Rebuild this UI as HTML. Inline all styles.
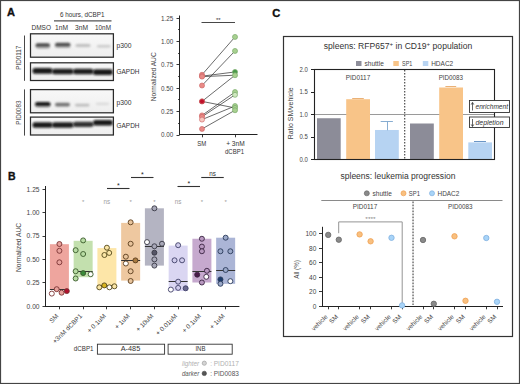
<!DOCTYPE html>
<html><head><meta charset="utf-8"><style>
html,body{margin:0;padding:0;background:#fff;}
svg{display:block;font-family:"Liberation Sans", sans-serif;}
</style></head><body>
<svg width="520" height="384" viewBox="0 0 520 384">
<defs>
<filter id="bl" x="-30%" y="-100%" width="160%" height="300%"><feGaussianBlur stdDeviation="1.1 0.85"/></filter>
<linearGradient id="blotbg" x1="0" y1="0" x2="0" y2="1"><stop offset="0" stop-color="#f8f8f8"/><stop offset="1" stop-color="#eeeeee"/></linearGradient>
<clipPath id="clipb1"><rect x="31" y="34.3" width="82" height="22.4"/></clipPath>
<clipPath id="clipb2"><rect x="31" y="63.3" width="82" height="16.7"/></clipPath>
<clipPath id="clipb3"><rect x="31" y="90.1" width="82" height="22.2"/></clipPath>
<clipPath id="clipb4"><rect x="31" y="117.6" width="82" height="16.9"/></clipPath>
</defs>
<rect x="0" y="0" width="520" height="384" fill="#fff"/>
<text x="7.00" y="15.80" font-size="11" fill="#111" font-weight="bold" stroke="#111" stroke-width="0.35">A</text>
<text x="60.00" y="17.00" font-size="6.3" fill="#333" textLength="44.50" lengthAdjust="spacingAndGlyphs" >6 hours, dCBP1</text>
<line x1="54.00" y1="20.90" x2="111.50" y2="20.90" stroke="#555" stroke-width="1.3" />
<text x="31.50" y="29.90" font-size="6.4" fill="#333" textLength="19.50" lengthAdjust="spacingAndGlyphs" >DMSO</text>
<text x="55.00" y="29.90" font-size="6.4" fill="#333" textLength="13.00" lengthAdjust="spacingAndGlyphs" >1nM</text>
<text x="75.00" y="29.90" font-size="6.4" fill="#333" textLength="13.00" lengthAdjust="spacingAndGlyphs" >3nM</text>
<text x="95.00" y="29.90" font-size="6.4" fill="#333" textLength="16.00" lengthAdjust="spacingAndGlyphs" >10nM</text>
<rect x="30.5" y="33.8" width="82.90" height="23.40" fill="url(#blotbg)" stroke="#2a2a2a" stroke-width="1.25"/>
<rect x="30.5" y="62.8" width="82.90" height="17.70" fill="url(#blotbg)" stroke="#2a2a2a" stroke-width="1.25"/>
<rect x="30.5" y="89.6" width="82.90" height="23.20" fill="url(#blotbg)" stroke="#2a2a2a" stroke-width="1.25"/>
<rect x="30.5" y="117.1" width="82.90" height="17.90" fill="url(#blotbg)" stroke="#2a2a2a" stroke-width="1.25"/>
<g clip-path="url(#clipb1)">
<rect x="35.50" y="43.30" width="14.50" height="4.20" rx="2.10" fill="#3a3a3a" opacity="0.92" filter="url(#bl)"/>
<rect x="55.00" y="42.80" width="15.50" height="4.20" rx="2.10" fill="#3a3a3a" opacity="0.9" filter="url(#bl)"/>
<rect x="75.50" y="44.10" width="15.00" height="3.00" rx="1.50" fill="#888" opacity="0.48" filter="url(#bl)"/>
<rect x="97.00" y="45.00" width="13.50" height="2.60" rx="1.30" fill="#888" opacity="0.38" filter="url(#bl)"/>
<rect x="36.00" y="46.00" width="14.00" height="3.00" rx="1.50" fill="#aaa" opacity="0.35" filter="url(#bl)"/>
<rect x="55.50" y="45.50" width="15.00" height="3.00" rx="1.50" fill="#aaa" opacity="0.35" filter="url(#bl)"/>
</g><g clip-path="url(#clipb2)">
<rect x="32.50" y="68.00" width="20.00" height="5.80" rx="2.50" fill="#0a0a0a" opacity="0.95" filter="url(#bl)"/>
<rect x="52.00" y="68.70" width="21.50" height="5.60" rx="2.50" fill="#111" opacity="0.93" filter="url(#bl)"/>
<rect x="73.00" y="68.70" width="20.50" height="5.60" rx="2.50" fill="#111" opacity="0.93" filter="url(#bl)"/>
<rect x="93.00" y="69.20" width="19.80" height="5.80" rx="2.50" fill="#0a0a0a" opacity="0.95" filter="url(#bl)"/>
</g><g clip-path="url(#clipb3)">
<rect x="35.00" y="102.00" width="15.50" height="4.40" rx="2.20" fill="#111" opacity="0.97" filter="url(#bl)"/>
<rect x="55.00" y="102.70" width="15.00" height="3.80" rx="1.90" fill="#555" opacity="0.8" filter="url(#bl)"/>
<rect x="75.00" y="103.80" width="14.50" height="2.60" rx="1.30" fill="#8a8a8a" opacity="0.5" filter="url(#bl)"/>
<rect x="96.00" y="102.70" width="13.00" height="2.20" rx="1.10" fill="#aaa" opacity="0.35" filter="url(#bl)"/>
<rect x="35.50" y="105.20" width="14.50" height="2.40" rx="1.20" fill="#999" opacity="0.3" filter="url(#bl)"/>
</g><g clip-path="url(#clipb4)">
<rect x="32.50" y="122.20" width="20.00" height="5.60" rx="2.50" fill="#0a0a0a" opacity="0.95" filter="url(#bl)"/>
<rect x="52.00" y="122.30" width="21.50" height="5.40" rx="2.50" fill="#111" opacity="0.93" filter="url(#bl)"/>
<rect x="73.00" y="121.80" width="20.50" height="5.20" rx="2.50" fill="#1e1e1e" opacity="0.9" filter="url(#bl)"/>
<rect x="93.00" y="120.00" width="19.80" height="5.60" rx="2.50" fill="#0a0a0a" opacity="0.95" filter="url(#bl)"/>
</g>
<line x1="24.50" y1="35.50" x2="24.50" y2="80.80" stroke="#333" stroke-width="0.9" />
<line x1="24.50" y1="89.40" x2="24.50" y2="135.60" stroke="#333" stroke-width="0.9" />
<text x="21.20" y="57.70" font-size="6.3" fill="#444" text-anchor="middle" textLength="24.20" lengthAdjust="spacingAndGlyphs" transform="rotate(-90 21.20 57.70)" >PID0117</text>
<text x="21.20" y="112.60" font-size="6.3" fill="#444" text-anchor="middle" textLength="24.30" lengthAdjust="spacingAndGlyphs" transform="rotate(-90 21.20 112.60)" >PID0083</text>
<text x="116.50" y="48.30" font-size="6.6" fill="#333" textLength="15.00" lengthAdjust="spacingAndGlyphs" >p300</text>
<text x="116.50" y="105.30" font-size="6.6" fill="#333" textLength="15.00" lengthAdjust="spacingAndGlyphs" >p300</text>
<text x="116.50" y="74.00" font-size="6.5" fill="#333" textLength="23.00" lengthAdjust="spacingAndGlyphs" >GAPDH</text>
<text x="116.50" y="128.30" font-size="6.5" fill="#333" textLength="23.00" lengthAdjust="spacingAndGlyphs" >GAPDH</text>
<line x1="179.50" y1="15.50" x2="179.50" y2="135.20" stroke="#222" stroke-width="1" />
<line x1="179.00" y1="134.50" x2="257.50" y2="134.50" stroke="#222" stroke-width="1" />
<line x1="176.50" y1="18.50" x2="179.50" y2="18.50" stroke="#222" stroke-width="0.9" />
<text x="173.40" y="20.50" font-size="6.3" fill="#444" text-anchor="end" textLength="12.30" lengthAdjust="spacingAndGlyphs" >1.25</text>
<line x1="176.50" y1="41.50" x2="179.50" y2="41.50" stroke="#222" stroke-width="0.9" />
<text x="173.40" y="43.85" font-size="6.3" fill="#444" text-anchor="end" textLength="12.30" lengthAdjust="spacingAndGlyphs" >1.00</text>
<line x1="176.50" y1="64.50" x2="179.50" y2="64.50" stroke="#222" stroke-width="0.9" />
<text x="173.40" y="67.20" font-size="6.3" fill="#444" text-anchor="end" textLength="12.30" lengthAdjust="spacingAndGlyphs" >0.75</text>
<line x1="176.50" y1="88.50" x2="179.50" y2="88.50" stroke="#222" stroke-width="0.9" />
<text x="173.40" y="90.55" font-size="6.3" fill="#444" text-anchor="end" textLength="12.30" lengthAdjust="spacingAndGlyphs" >0.50</text>
<line x1="176.50" y1="111.50" x2="179.50" y2="111.50" stroke="#222" stroke-width="0.9" />
<text x="173.40" y="113.90" font-size="6.3" fill="#444" text-anchor="end" textLength="12.30" lengthAdjust="spacingAndGlyphs" >0.25</text>
<line x1="176.50" y1="135.50" x2="179.50" y2="135.50" stroke="#222" stroke-width="0.9" />
<text x="173.40" y="137.25" font-size="6.3" fill="#444" text-anchor="end" textLength="12.30" lengthAdjust="spacingAndGlyphs" >0.00</text>
<line x1="178.00" y1="29.50" x2="179.50" y2="29.50" stroke="#222" stroke-width="0.8" />
<line x1="178.00" y1="53.50" x2="179.50" y2="53.50" stroke="#222" stroke-width="0.8" />
<line x1="178.00" y1="76.50" x2="179.50" y2="76.50" stroke="#222" stroke-width="0.8" />
<line x1="178.00" y1="99.50" x2="179.50" y2="99.50" stroke="#222" stroke-width="0.8" />
<line x1="178.00" y1="123.50" x2="179.50" y2="123.50" stroke="#222" stroke-width="0.8" />
<line x1="202.50" y1="134.70" x2="202.50" y2="137.30" stroke="#222" stroke-width="0.9" />
<line x1="235.50" y1="134.70" x2="235.50" y2="137.30" stroke="#222" stroke-width="0.9" />
<text x="156.40" y="76.80" font-size="7" fill="#444" text-anchor="middle" textLength="49.00" lengthAdjust="spacingAndGlyphs" transform="rotate(-90 156.40 76.80)" >Normalized AUC</text>
<text x="201.80" y="146.10" font-size="6.4" fill="#333" text-anchor="middle" textLength="9.00" lengthAdjust="spacingAndGlyphs" >SM</text>
<text x="235.40" y="146.10" font-size="6.4" fill="#333" text-anchor="middle" textLength="18.50" lengthAdjust="spacingAndGlyphs" >+ 3nM</text>
<text x="234.50" y="153.90" font-size="6.4" fill="#333" text-anchor="middle" textLength="19.00" lengthAdjust="spacingAndGlyphs" >dCBP1</text>
<line x1="201.50" y1="22.50" x2="235.00" y2="22.50" stroke="#333" stroke-width="0.9" />
<text x="218.30" y="22.40" font-size="6" fill="#333" text-anchor="middle" >**</text>
<line x1="202.00" y1="74.76" x2="235.00" y2="36.93" stroke="#3a3a3a" stroke-width="0.75" />
<line x1="202.00" y1="85.50" x2="235.00" y2="50.94" stroke="#3a3a3a" stroke-width="0.75" />
<line x1="202.00" y1="76.16" x2="235.00" y2="71.95" stroke="#3a3a3a" stroke-width="0.75" />
<line x1="202.00" y1="76.62" x2="235.00" y2="75.22" stroke="#3a3a3a" stroke-width="0.75" />
<line x1="202.00" y1="101.38" x2="235.00" y2="75.22" stroke="#3a3a3a" stroke-width="0.75" />
<line x1="202.00" y1="101.38" x2="235.00" y2="107.91" stroke="#3a3a3a" stroke-width="0.75" />
<line x1="202.00" y1="115.39" x2="235.00" y2="92.04" stroke="#3a3a3a" stroke-width="0.75" />
<line x1="202.00" y1="116.79" x2="235.00" y2="94.84" stroke="#3a3a3a" stroke-width="0.75" />
<line x1="202.00" y1="119.59" x2="235.00" y2="106.05" stroke="#3a3a3a" stroke-width="0.75" />
<line x1="202.00" y1="128.93" x2="235.00" y2="110.25" stroke="#3a3a3a" stroke-width="0.75" />
<circle cx="202.00" cy="74.76" r="2.5" fill="#e88a86" stroke="#d06a6a" stroke-width="0.7"/>
<circle cx="202.00" cy="85.50" r="2.5" fill="#e88a86" stroke="#d06a6a" stroke-width="0.7"/>
<circle cx="202.00" cy="76.16" r="2.5" fill="#e88a86" stroke="#d06a6a" stroke-width="0.7"/>
<circle cx="202.00" cy="76.62" r="2.5" fill="#e88a86" stroke="#d06a6a" stroke-width="0.7"/>
<circle cx="202.00" cy="101.38" r="2.5" fill="#c0102a" stroke="#d06a6a" stroke-width="0.7"/>
<circle cx="202.00" cy="101.38" r="2.5" fill="#c0102a" stroke="#d06a6a" stroke-width="0.7"/>
<circle cx="202.00" cy="115.39" r="2.5" fill="#e88a86" stroke="#d06a6a" stroke-width="0.7"/>
<circle cx="202.00" cy="116.79" r="2.5" fill="#e88a86" stroke="#d06a6a" stroke-width="0.7"/>
<circle cx="202.00" cy="119.59" r="2.5" fill="#f6c8c0" stroke="#d06a6a" stroke-width="0.7"/>
<circle cx="202.00" cy="128.93" r="2.5" fill="#e88a86" stroke="#d06a6a" stroke-width="0.7"/>
<circle cx="235.00" cy="36.93" r="2.5" fill="#a8d090" stroke="#7aaa6a" stroke-width="0.7"/>
<circle cx="235.00" cy="50.94" r="2.5" fill="#a8d090" stroke="#7aaa6a" stroke-width="0.7"/>
<circle cx="235.00" cy="71.95" r="2.5" fill="#4a9a4a" stroke="#7aaa6a" stroke-width="0.7"/>
<circle cx="235.00" cy="75.22" r="2.5" fill="#a8d090" stroke="#7aaa6a" stroke-width="0.7"/>
<circle cx="235.00" cy="92.04" r="2.5" fill="#a8d090" stroke="#7aaa6a" stroke-width="0.7"/>
<circle cx="235.00" cy="94.84" r="2.5" fill="#d0e8c0" stroke="#7aaa6a" stroke-width="0.7"/>
<circle cx="235.00" cy="106.05" r="2.5" fill="#a8d090" stroke="#7aaa6a" stroke-width="0.7"/>
<circle cx="235.00" cy="107.91" r="2.5" fill="#a8d090" stroke="#7aaa6a" stroke-width="0.7"/>
<circle cx="235.00" cy="110.25" r="2.5" fill="#a8d090" stroke="#7aaa6a" stroke-width="0.7"/>
<text x="8.00" y="180.00" font-size="10.5" fill="#111" font-weight="bold" stroke="#111" stroke-width="0.35">B</text>
<line x1="45.50" y1="186.00" x2="45.50" y2="306.60" stroke="#222" stroke-width="1" />
<line x1="45.00" y1="306.50" x2="239.40" y2="306.50" stroke="#222" stroke-width="1" />
<line x1="42.50" y1="189.50" x2="45.50" y2="189.50" stroke="#222" stroke-width="0.9" />
<text x="39.60" y="191.50" font-size="6.3" fill="#444" text-anchor="end" textLength="13.00" lengthAdjust="spacingAndGlyphs" >1.25</text>
<line x1="42.50" y1="212.50" x2="45.50" y2="212.50" stroke="#222" stroke-width="0.9" />
<text x="39.60" y="214.90" font-size="6.3" fill="#444" text-anchor="end" textLength="13.00" lengthAdjust="spacingAndGlyphs" >1.00</text>
<line x1="42.50" y1="236.50" x2="45.50" y2="236.50" stroke="#222" stroke-width="0.9" />
<text x="39.60" y="238.30" font-size="6.3" fill="#444" text-anchor="end" textLength="13.00" lengthAdjust="spacingAndGlyphs" >0.75</text>
<line x1="42.50" y1="259.50" x2="45.50" y2="259.50" stroke="#222" stroke-width="0.9" />
<text x="39.60" y="261.70" font-size="6.3" fill="#444" text-anchor="end" textLength="13.00" lengthAdjust="spacingAndGlyphs" >0.50</text>
<line x1="42.50" y1="282.50" x2="45.50" y2="282.50" stroke="#222" stroke-width="0.9" />
<text x="39.60" y="285.10" font-size="6.3" fill="#444" text-anchor="end" textLength="13.00" lengthAdjust="spacingAndGlyphs" >0.25</text>
<line x1="42.50" y1="306.50" x2="45.50" y2="306.50" stroke="#222" stroke-width="0.9" />
<text x="39.60" y="308.50" font-size="6.3" fill="#444" text-anchor="end" textLength="13.00" lengthAdjust="spacingAndGlyphs" >0.00</text>
<text x="20.90" y="247.50" font-size="7" fill="#444" text-anchor="middle" textLength="49.00" lengthAdjust="spacingAndGlyphs" transform="rotate(-90 20.90 247.50)" >Normalized AUC</text>
<line x1="59.50" y1="306.25" x2="59.50" y2="309.30" stroke="#222" stroke-width="0.9" />
<line x1="83.50" y1="306.25" x2="83.50" y2="309.30" stroke="#222" stroke-width="0.9" />
<line x1="106.50" y1="306.25" x2="106.50" y2="309.30" stroke="#222" stroke-width="0.9" />
<line x1="130.50" y1="306.25" x2="130.50" y2="309.30" stroke="#222" stroke-width="0.9" />
<line x1="154.50" y1="306.25" x2="154.50" y2="309.30" stroke="#222" stroke-width="0.9" />
<line x1="178.50" y1="306.25" x2="178.50" y2="309.30" stroke="#222" stroke-width="0.9" />
<line x1="201.50" y1="306.25" x2="201.50" y2="309.30" stroke="#222" stroke-width="0.9" />
<line x1="225.50" y1="306.25" x2="225.50" y2="309.30" stroke="#222" stroke-width="0.9" />
<rect x="49.90" y="244.20" width="19.00" height="45.00" fill="#eea59e" stroke="none" stroke-width="1" />
<rect x="73.65" y="240.80" width="19.00" height="36.40" fill="#c3e0ae" stroke="none" stroke-width="1" />
<rect x="97.40" y="248.10" width="19.00" height="36.90" fill="#fde6a8" stroke="none" stroke-width="1" />
<rect x="121.15" y="222.90" width="19.00" height="57.70" fill="#eec8a0" stroke="none" stroke-width="1" />
<rect x="144.90" y="208.30" width="19.00" height="57.30" fill="#b4b4c2" stroke="none" stroke-width="1" />
<rect x="168.65" y="245.60" width="19.00" height="45.40" fill="#dad6f2" stroke="none" stroke-width="1" />
<rect x="192.40" y="238.75" width="19.00" height="43.75" fill="#c6a9ce" stroke="none" stroke-width="1" />
<rect x="216.15" y="237.70" width="19.00" height="46.10" fill="#abb5d6" stroke="none" stroke-width="1" />
<line x1="49.90" y1="289.50" x2="68.90" y2="289.50" stroke="#333" stroke-width="1" />
<circle cx="59.40" cy="244.00" r="2.5" fill="#e8a29c" stroke="#7a3232" stroke-width="0.9"/>
<circle cx="59.40" cy="250.80" r="2.5" fill="#e8a29c" stroke="#7a3232" stroke-width="0.9"/>
<circle cx="59.40" cy="262.30" r="2.5" fill="#e8a29c" stroke="#7a3232" stroke-width="0.9"/>
<circle cx="56.70" cy="289.20" r="2.5" fill="#e8a29c" stroke="#7a3232" stroke-width="0.9"/>
<circle cx="51.80" cy="293.60" r="2.5" fill="#ffffff" stroke="#7a3232" stroke-width="0.9"/>
<circle cx="61.60" cy="292.70" r="2.5" fill="#e8a29c" stroke="#7a3232" stroke-width="0.9"/>
<circle cx="66.80" cy="291.10" r="2.5" fill="#b0102e" stroke="#7a3232" stroke-width="0.9"/>
<line x1="73.65" y1="271.50" x2="92.65" y2="271.50" stroke="#333" stroke-width="1" />
<circle cx="83.15" cy="240.40" r="2.5" fill="#b8dca4" stroke="#3a5a2a" stroke-width="0.9"/>
<circle cx="75.65" cy="250.20" r="2.5" fill="#b8dca4" stroke="#3a5a2a" stroke-width="0.9"/>
<circle cx="83.15" cy="254.00" r="2.5" fill="#b8dca4" stroke="#3a5a2a" stroke-width="0.9"/>
<circle cx="75.65" cy="271.25" r="2.5" fill="#b8dca4" stroke="#3a5a2a" stroke-width="0.9"/>
<circle cx="83.15" cy="273.10" r="2.5" fill="#3a8a3a" stroke="#3a5a2a" stroke-width="0.9"/>
<circle cx="90.65" cy="274.20" r="2.5" fill="#ffffff" stroke="#3a5a2a" stroke-width="0.9"/>
<circle cx="75.65" cy="278.50" r="2.5" fill="#b8dca4" stroke="#3a5a2a" stroke-width="0.9"/>
<line x1="97.40" y1="285.50" x2="116.40" y2="285.50" stroke="#333" stroke-width="1" />
<circle cx="106.90" cy="247.70" r="2.5" fill="#fbe6a6" stroke="#55481a" stroke-width="0.9"/>
<circle cx="104.40" cy="255.00" r="2.5" fill="#fbe6a6" stroke="#55481a" stroke-width="0.9"/>
<circle cx="109.20" cy="252.90" r="2.5" fill="#fbe6a6" stroke="#55481a" stroke-width="0.9"/>
<circle cx="99.30" cy="287.30" r="2.5" fill="#fbe6a6" stroke="#55481a" stroke-width="0.9"/>
<circle cx="104.30" cy="285.40" r="2.5" fill="#d8b420" stroke="#55481a" stroke-width="0.9"/>
<circle cx="109.40" cy="287.30" r="2.5" fill="#ffffff" stroke="#55481a" stroke-width="0.9"/>
<circle cx="114.40" cy="286.30" r="2.5" fill="#fbe6a6" stroke="#55481a" stroke-width="0.9"/>
<line x1="121.15" y1="260.50" x2="140.15" y2="260.50" stroke="#333" stroke-width="1" />
<circle cx="130.65" cy="222.30" r="2.5" fill="#e8c49c" stroke="#5a3c1c" stroke-width="0.9"/>
<circle cx="130.65" cy="243.75" r="2.5" fill="#e8c49c" stroke="#5a3c1c" stroke-width="0.9"/>
<circle cx="125.85" cy="256.70" r="2.5" fill="#e8c49c" stroke="#5a3c1c" stroke-width="0.9"/>
<circle cx="125.85" cy="263.50" r="2.5" fill="#ffffff" stroke="#5a3c1c" stroke-width="0.9"/>
<circle cx="135.45" cy="260.40" r="2.5" fill="#a87a40" stroke="#5a3c1c" stroke-width="0.9"/>
<circle cx="130.65" cy="271.25" r="2.5" fill="#e8c49c" stroke="#5a3c1c" stroke-width="0.9"/>
<circle cx="130.65" cy="281.00" r="2.5" fill="#e8c49c" stroke="#5a3c1c" stroke-width="0.9"/>
<line x1="144.90" y1="246.50" x2="163.90" y2="246.50" stroke="#333" stroke-width="1" />
<circle cx="154.40" cy="208.30" r="2.5" fill="#a8a8b8" stroke="#383844" stroke-width="0.9"/>
<circle cx="147.00" cy="242.10" r="2.5" fill="#ffffff" stroke="#383844" stroke-width="0.9"/>
<circle cx="162.00" cy="243.75" r="2.5" fill="#a8a8b8" stroke="#383844" stroke-width="0.9"/>
<circle cx="154.40" cy="246.25" r="2.5" fill="#a8a8b8" stroke="#383844" stroke-width="0.9"/>
<circle cx="154.40" cy="252.70" r="2.5" fill="#555566" stroke="#383844" stroke-width="0.9"/>
<circle cx="154.40" cy="259.40" r="2.5" fill="#a8a8b8" stroke="#383844" stroke-width="0.9"/>
<circle cx="154.40" cy="265.60" r="2.5" fill="#a8a8b8" stroke="#383844" stroke-width="0.9"/>
<line x1="168.65" y1="281.50" x2="187.65" y2="281.50" stroke="#333" stroke-width="1" />
<circle cx="178.15" cy="245.20" r="2.5" fill="#d0ccec" stroke="#404068" stroke-width="0.9"/>
<circle cx="174.55" cy="260.30" r="2.5" fill="#d0ccec" stroke="#404068" stroke-width="0.9"/>
<circle cx="182.05" cy="260.30" r="2.5" fill="#d0ccec" stroke="#404068" stroke-width="0.9"/>
<circle cx="178.15" cy="281.70" r="2.5" fill="#d0ccec" stroke="#404068" stroke-width="0.9"/>
<circle cx="170.85" cy="289.60" r="2.5" fill="#ffffff" stroke="#404068" stroke-width="0.9"/>
<circle cx="178.15" cy="287.90" r="2.5" fill="#d0ccec" stroke="#404068" stroke-width="0.9"/>
<circle cx="185.65" cy="288.30" r="2.5" fill="#6a6a90" stroke="#404068" stroke-width="0.9"/>
<line x1="192.40" y1="271.50" x2="211.40" y2="271.50" stroke="#333" stroke-width="1" />
<circle cx="201.90" cy="238.75" r="2.5" fill="#b898c0" stroke="#3a2442" stroke-width="0.9"/>
<circle cx="201.90" cy="246.60" r="2.5" fill="#b898c0" stroke="#3a2442" stroke-width="0.9"/>
<circle cx="201.90" cy="251.25" r="2.5" fill="#b898c0" stroke="#3a2442" stroke-width="0.9"/>
<circle cx="206.90" cy="270.80" r="2.5" fill="#b898c0" stroke="#3a2442" stroke-width="0.9"/>
<circle cx="197.20" cy="274.70" r="2.5" fill="#4a1a4a" stroke="#3a2442" stroke-width="0.9"/>
<circle cx="206.30" cy="276.80" r="2.5" fill="#ffffff" stroke="#3a2442" stroke-width="0.9"/>
<circle cx="201.90" cy="282.50" r="2.5" fill="#b898c0" stroke="#3a2442" stroke-width="0.9"/>
<line x1="216.15" y1="270.50" x2="235.15" y2="270.50" stroke="#333" stroke-width="1" />
<circle cx="225.65" cy="237.70" r="2.5" fill="#9aa8c8" stroke="#2a3a5a" stroke-width="0.9"/>
<circle cx="220.45" cy="251.25" r="2.5" fill="#9aa8c8" stroke="#2a3a5a" stroke-width="0.9"/>
<circle cx="230.35" cy="251.25" r="2.5" fill="#9aa8c8" stroke="#2a3a5a" stroke-width="0.9"/>
<circle cx="225.65" cy="270.00" r="2.5" fill="#9aa8c8" stroke="#2a3a5a" stroke-width="0.9"/>
<circle cx="220.45" cy="279.40" r="2.5" fill="#1a3a6a" stroke="#2a3a5a" stroke-width="0.9"/>
<circle cx="230.35" cy="281.20" r="2.5" fill="#ffffff" stroke="#2a3a5a" stroke-width="0.9"/>
<circle cx="220.45" cy="283.80" r="2.5" fill="#9aa8c8" stroke="#2a3a5a" stroke-width="0.9"/>
<text x="58.90" y="316.50" font-size="6.5" fill="#444" text-anchor="end" transform="rotate(-45 58.90 316.50)" >SM</text>
<text x="82.65" y="316.50" font-size="6.5" fill="#444" text-anchor="end" transform="rotate(-45 82.65 316.50)" >+3nM dCBP1</text>
<text x="106.40" y="316.50" font-size="6.5" fill="#444" text-anchor="end" transform="rotate(-45 106.40 316.50)" >+ 0.1uM</text>
<text x="130.15" y="316.50" font-size="6.5" fill="#444" text-anchor="end" transform="rotate(-45 130.15 316.50)" >+ 1uM</text>
<text x="153.90" y="316.50" font-size="6.5" fill="#444" text-anchor="end" transform="rotate(-45 153.90 316.50)" >+ 10uM</text>
<text x="177.65" y="316.50" font-size="6.5" fill="#444" text-anchor="end" transform="rotate(-45 177.65 316.50)" >+ 0.01uM</text>
<text x="201.40" y="316.50" font-size="6.5" fill="#444" text-anchor="end" transform="rotate(-45 201.40 316.50)" >+ 0.1uM</text>
<text x="225.15" y="316.50" font-size="6.5" fill="#444" text-anchor="end" transform="rotate(-45 225.15 316.50)" >+ 1uM</text>
<text x="83.15" y="204.00" font-size="6" fill="#999" text-anchor="middle" >*</text>
<text x="106.90" y="203.80" font-size="6.3" fill="#a0a0a0" text-anchor="middle" >ns</text>
<text x="130.65" y="204.00" font-size="6" fill="#999" text-anchor="middle" >*</text>
<text x="154.40" y="204.00" font-size="6" fill="#999" text-anchor="middle" >*</text>
<text x="178.15" y="203.80" font-size="6.3" fill="#a0a0a0" text-anchor="middle" >ns</text>
<text x="201.90" y="204.00" font-size="6" fill="#999" text-anchor="middle" >*</text>
<text x="225.65" y="204.00" font-size="6" fill="#999" text-anchor="middle" >*</text>
<line x1="107.00" y1="188.50" x2="129.50" y2="188.50" stroke="#333" stroke-width="1.1" />
<text x="118.25" y="187.70" font-size="7" fill="#222" text-anchor="middle" >*</text>
<line x1="131.00" y1="177.50" x2="153.50" y2="177.50" stroke="#333" stroke-width="1.1" />
<text x="142.25" y="176.70" font-size="7" fill="#222" text-anchor="middle" >*</text>
<line x1="177.50" y1="186.50" x2="200.00" y2="186.50" stroke="#333" stroke-width="1.1" />
<text x="188.75" y="186.40" font-size="7" fill="#222" text-anchor="middle" >*</text>
<line x1="201.25" y1="177.50" x2="223.75" y2="177.50" stroke="#333" stroke-width="1.1" />
<text x="212.50" y="176.20" font-size="6.3" fill="#333" text-anchor="middle" >ns</text>
<text x="73.80" y="351.30" font-size="6.4" fill="#333" textLength="19.70" lengthAdjust="spacingAndGlyphs" >dCBP1</text>
<rect x="97.40" y="344.20" width="67.20" height="10.00" fill="none" stroke="#333" stroke-width="0.9" />
<text x="130.50" y="351.30" font-size="6.6" fill="#333" text-anchor="middle" textLength="19.50" lengthAdjust="spacingAndGlyphs" >A-485</text>
<rect x="168.10" y="344.20" width="64.10" height="10.00" fill="none" stroke="#333" stroke-width="0.9" />
<text x="200.40" y="351.30" font-size="6.4" fill="#333" text-anchor="middle" textLength="10.00" lengthAdjust="spacingAndGlyphs" >INB</text>
<text x="182.00" y="365.60" font-size="6.3" fill="#b0b0b0" font-style="italic" textLength="17.20" lengthAdjust="spacingAndGlyphs" >lighter</text>
<circle cx="204.30" cy="363.20" r="2.1" fill="#d4d4d4" stroke="#a8a8a8" stroke-width="0.8"/>
<text x="210.20" y="365.60" font-size="6.3" fill="#b0b0b0" >:</text>
<text x="213.70" y="365.60" font-size="6.4" fill="#b0b0b0" textLength="25.20" lengthAdjust="spacingAndGlyphs" >PID0117</text>
<text x="182.00" y="375.70" font-size="6.3" fill="#555" font-style="italic" textLength="17.20" lengthAdjust="spacingAndGlyphs" >darker</text>
<circle cx="204.30" cy="373.40" r="2.2" fill="#555" stroke="#444" stroke-width="0.6"/>
<text x="210.20" y="375.70" font-size="6.3" fill="#555" >:</text>
<text x="213.70" y="375.70" font-size="6.4" fill="#555" textLength="25.20" lengthAdjust="spacingAndGlyphs" >PID0083</text>
<text x="272.30" y="16.70" font-size="11.2" fill="#111" font-weight="bold" stroke="#111" stroke-width="0.35">C</text>
<rect x="283.50" y="36.50" width="229.00" height="300.00" fill="none" stroke="#333" stroke-width="1.2" />
<text x="323.8" y="49.3" font-size="8.3" fill="#333" textLength="148.4" lengthAdjust="spacingAndGlyphs">spleens: RFP657<tspan font-size="6" dy="-3.2">+</tspan><tspan dy="3.2"> in CD19</tspan><tspan font-size="6" dy="-3.2">+</tspan><tspan dy="3"> population</tspan></text>
<rect x="356.00" y="61.00" width="5.50" height="5.00" fill="#8e8e9a" stroke="none" stroke-width="1" />
<text x="364.50" y="65.60" font-size="6.4" fill="#444" textLength="19.30" lengthAdjust="spacingAndGlyphs" >shuttle</text>
<rect x="393.30" y="61.00" width="5.50" height="5.00" fill="#f8c488" stroke="none" stroke-width="1" />
<text x="402.00" y="65.60" font-size="6.4" fill="#444" textLength="10.30" lengthAdjust="spacingAndGlyphs" >SP1</text>
<rect x="422.80" y="61.00" width="5.50" height="5.00" fill="#b8d4f2" stroke="none" stroke-width="1" />
<text x="431.20" y="65.60" font-size="6.4" fill="#444" textLength="22.00" lengthAdjust="spacingAndGlyphs" >HDAC2</text>
<line x1="404.70" y1="70.00" x2="404.70" y2="159.00" stroke="#4a4a4a" stroke-width="1.2" stroke-dasharray="1.5 1.5"/>
<line x1="314.50" y1="114.50" x2="494.00" y2="114.50" stroke="#9a9a9a" stroke-width="1" />
<rect x="317.00" y="118.23" width="23.70" height="41.27" fill="#8c8c98" stroke="none" stroke-width="1" />
<rect x="346.20" y="99.20" width="23.80" height="60.30" fill="#f8c488" stroke="none" stroke-width="1" />
<rect x="375.00" y="129.98" width="23.80" height="29.52" fill="#b6d3f2" stroke="none" stroke-width="1" />
<rect x="410.00" y="123.50" width="23.80" height="36.00" fill="#8c8c98" stroke="none" stroke-width="1" />
<rect x="439.20" y="87.50" width="23.80" height="72.00" fill="#f8c488" stroke="none" stroke-width="1" />
<rect x="468.30" y="142.40" width="23.70" height="17.10" fill="#b6d3f2" stroke="none" stroke-width="1" />
<line x1="352.20" y1="98.50" x2="363.80" y2="98.50" stroke="#e8a868" stroke-width="0.9" />
<line x1="387.50" y1="130.30" x2="387.50" y2="121.60" stroke="#7aa4cc" stroke-width="0.9" />
<line x1="380.70" y1="121.50" x2="392.90" y2="121.50" stroke="#7aa4cc" stroke-width="0.9" />
<line x1="445.40" y1="86.50" x2="456.20" y2="86.50" stroke="#e8a868" stroke-width="0.9" />
<line x1="474.00" y1="141.50" x2="486.00" y2="141.50" stroke="#5a8ac0" stroke-width="0.9" />
<rect x="314.50" y="69.50" width="180.00" height="90.00" fill="none" stroke="#222" stroke-width="1.1" />
<line x1="311.00" y1="69.50" x2="314.50" y2="69.50" stroke="#222" stroke-width="1" />
<text x="307.80" y="71.80" font-size="6.5" fill="#444" text-anchor="end" textLength="8.30" lengthAdjust="spacingAndGlyphs" >2.0</text>
<line x1="311.00" y1="92.50" x2="314.50" y2="92.50" stroke="#222" stroke-width="1" />
<text x="307.80" y="94.30" font-size="6.5" fill="#444" text-anchor="end" textLength="8.30" lengthAdjust="spacingAndGlyphs" >1.5</text>
<line x1="311.00" y1="114.50" x2="314.50" y2="114.50" stroke="#222" stroke-width="1" />
<text x="307.80" y="116.80" font-size="6.5" fill="#444" text-anchor="end" textLength="8.30" lengthAdjust="spacingAndGlyphs" >1.0</text>
<line x1="311.00" y1="137.50" x2="314.50" y2="137.50" stroke="#222" stroke-width="1" />
<text x="307.80" y="139.30" font-size="6.5" fill="#444" text-anchor="end" textLength="8.30" lengthAdjust="spacingAndGlyphs" >0.5</text>
<line x1="311.00" y1="159.50" x2="314.50" y2="159.50" stroke="#222" stroke-width="1" />
<text x="307.80" y="161.80" font-size="6.5" fill="#444" text-anchor="end" textLength="8.30" lengthAdjust="spacingAndGlyphs" >0.0</text>
<text x="293.20" y="113.30" font-size="7" fill="#444" text-anchor="middle" textLength="52.00" lengthAdjust="spacingAndGlyphs" transform="rotate(-90 293.20 113.30)" >Ratio SM/vehicle</text>
<text x="358.00" y="80.00" font-size="6.3" fill="#444" text-anchor="middle" textLength="24.50" lengthAdjust="spacingAndGlyphs" >PID0117</text>
<text x="450.80" y="80.00" font-size="6.3" fill="#444" text-anchor="middle" textLength="24.30" lengthAdjust="spacingAndGlyphs" >PID0083</text>
<rect x="469.50" y="100.50" width="40.00" height="12.00" fill="#ffffff" stroke="#333" stroke-width="0.9" />
<rect x="469.50" y="117.00" width="40.00" height="10.50" fill="#ffffff" stroke="#333" stroke-width="0.9" />
<line x1="472.50" y1="110.50" x2="472.50" y2="103.00" stroke="#222" stroke-width="0.7" />
<path d="M471.2 104.6 L472.5 102.3 L473.8 104.6" fill="none" stroke="#222" stroke-width="0.7"/>
<line x1="472.50" y1="119.00" x2="472.50" y2="126.00" stroke="#222" stroke-width="0.7" />
<path d="M471.2 124.4 L472.5 126.6 L473.8 124.4" fill="none" stroke="#222" stroke-width="0.7"/>
<text x="475.50" y="109.00" font-size="6.4" fill="#333" font-style="italic" textLength="32.50" lengthAdjust="spacingAndGlyphs" >enrichment</text>
<text x="475.50" y="124.60" font-size="6.4" fill="#333" font-style="italic" textLength="28.00" lengthAdjust="spacingAndGlyphs" >depletion</text>
<text x="340.50" y="179.00" font-size="8.3" fill="#333" textLength="115.00" lengthAdjust="spacingAndGlyphs" >spleens: leukemia progression</text>
<circle cx="366.80" cy="193.30" r="2.5" fill="#8a8a8a" stroke="#6a6a6a" stroke-width="0.7"/>
<text x="372.50" y="195.60" font-size="6.4" fill="#444" textLength="19.30" lengthAdjust="spacingAndGlyphs" >shuttle</text>
<circle cx="403.50" cy="193.30" r="2.5" fill="#f8c080" stroke="#f0a050" stroke-width="0.7"/>
<text x="408.80" y="195.60" font-size="6.4" fill="#444" textLength="11.20" lengthAdjust="spacingAndGlyphs" >SP1</text>
<circle cx="432.00" cy="193.30" r="2.5" fill="#a8d4f8" stroke="#80b0e0" stroke-width="0.7"/>
<text x="437.50" y="195.60" font-size="6.4" fill="#444" textLength="21.80" lengthAdjust="spacingAndGlyphs" >HDAC2</text>
<line x1="321.30" y1="200.50" x2="502.50" y2="200.50" stroke="#8a8a8a" stroke-width="1" />
<text x="365.00" y="209.00" font-size="6.3" fill="#444" text-anchor="middle" textLength="24.50" lengthAdjust="spacingAndGlyphs" >PID0117</text>
<text x="460.30" y="209.00" font-size="6.3" fill="#444" text-anchor="middle" textLength="24.50" lengthAdjust="spacingAndGlyphs" >PID0083</text>
<line x1="413.05" y1="201.50" x2="413.05" y2="305.00" stroke="#8a8a8a" stroke-width="1.8" stroke-dasharray="1.7 1.3"/>
<line x1="322.50" y1="226.80" x2="322.50" y2="306.60" stroke="#222" stroke-width="1" />
<line x1="321.60" y1="306.50" x2="503.00" y2="306.50" stroke="#222" stroke-width="1" />
<line x1="319.00" y1="233.50" x2="322.00" y2="233.50" stroke="#222" stroke-width="0.9" />
<text x="316.30" y="236.10" font-size="6.5" fill="#444" text-anchor="end" >100</text>
<line x1="319.00" y1="248.50" x2="322.00" y2="248.50" stroke="#222" stroke-width="0.9" />
<text x="316.30" y="250.59" font-size="6.5" fill="#444" text-anchor="end" >80</text>
<line x1="319.00" y1="262.50" x2="322.00" y2="262.50" stroke="#222" stroke-width="0.9" />
<text x="316.30" y="265.08" font-size="6.5" fill="#444" text-anchor="end" >60</text>
<line x1="319.00" y1="277.50" x2="322.00" y2="277.50" stroke="#222" stroke-width="0.9" />
<text x="316.30" y="279.57" font-size="6.5" fill="#444" text-anchor="end" >40</text>
<line x1="319.00" y1="291.50" x2="322.00" y2="291.50" stroke="#222" stroke-width="0.9" />
<text x="316.30" y="294.06" font-size="6.5" fill="#444" text-anchor="end" >20</text>
<line x1="319.00" y1="306.50" x2="322.00" y2="306.50" stroke="#222" stroke-width="0.9" />
<text x="316.30" y="308.55" font-size="6.5" fill="#444" text-anchor="end" >0</text>
<text x="299.40" y="269.40" font-size="7" fill="#444" text-anchor="middle" textLength="18.50" lengthAdjust="spacingAndGlyphs" transform="rotate(-90 299.40 269.40)" >All (%)</text>
<path d="M338.7 233.2 V221.9 H402.2 V303" fill="none" stroke="#949494" stroke-width="1"/>
<text x="370.50" y="221.20" font-size="6.2" fill="#888" text-anchor="middle" textLength="10.40" lengthAdjust="spacingAndGlyphs" >****</text>
<line x1="328.50" y1="306.25" x2="328.50" y2="309.30" stroke="#222" stroke-width="0.9" />
<line x1="338.50" y1="306.25" x2="338.50" y2="309.30" stroke="#222" stroke-width="0.9" />
<line x1="359.50" y1="306.25" x2="359.50" y2="309.30" stroke="#222" stroke-width="0.9" />
<line x1="370.50" y1="306.25" x2="370.50" y2="309.30" stroke="#222" stroke-width="0.9" />
<line x1="391.50" y1="306.25" x2="391.50" y2="309.30" stroke="#222" stroke-width="0.9" />
<line x1="402.50" y1="306.25" x2="402.50" y2="309.30" stroke="#222" stroke-width="0.9" />
<line x1="423.50" y1="306.25" x2="423.50" y2="309.30" stroke="#222" stroke-width="0.9" />
<line x1="433.50" y1="306.25" x2="433.50" y2="309.30" stroke="#222" stroke-width="0.9" />
<line x1="454.50" y1="306.25" x2="454.50" y2="309.30" stroke="#222" stroke-width="0.9" />
<line x1="465.50" y1="306.25" x2="465.50" y2="309.30" stroke="#222" stroke-width="0.9" />
<line x1="486.50" y1="306.25" x2="486.50" y2="309.30" stroke="#222" stroke-width="0.9" />
<line x1="497.50" y1="306.25" x2="497.50" y2="309.30" stroke="#222" stroke-width="0.9" />
<text x="328.00" y="317.20" font-size="6.4" fill="#444" text-anchor="end" transform="rotate(-45 328.00 317.20)" >vehicle</text>
<text x="338.60" y="317.20" font-size="6.4" fill="#444" text-anchor="end" transform="rotate(-45 338.60 317.20)" >SM</text>
<text x="359.40" y="317.20" font-size="6.4" fill="#444" text-anchor="end" transform="rotate(-45 359.40 317.20)" >vehicle</text>
<text x="370.40" y="317.20" font-size="6.4" fill="#444" text-anchor="end" transform="rotate(-45 370.40 317.20)" >SM</text>
<text x="391.30" y="317.20" font-size="6.4" fill="#444" text-anchor="end" transform="rotate(-45 391.30 317.20)" >vehicle</text>
<text x="401.90" y="317.20" font-size="6.4" fill="#444" text-anchor="end" transform="rotate(-45 401.90 317.20)" >SM</text>
<text x="422.80" y="317.20" font-size="6.4" fill="#444" text-anchor="end" transform="rotate(-45 422.80 317.20)" >vehicle</text>
<text x="433.60" y="317.20" font-size="6.4" fill="#444" text-anchor="end" transform="rotate(-45 433.60 317.20)" >SM</text>
<text x="454.30" y="317.20" font-size="6.4" fill="#444" text-anchor="end" transform="rotate(-45 454.30 317.20)" >vehicle</text>
<text x="465.30" y="317.20" font-size="6.4" fill="#444" text-anchor="end" transform="rotate(-45 465.30 317.20)" >SM</text>
<text x="486.10" y="317.20" font-size="6.4" fill="#444" text-anchor="end" transform="rotate(-45 486.10 317.20)" >vehicle</text>
<text x="496.80" y="317.20" font-size="6.4" fill="#444" text-anchor="end" transform="rotate(-45 496.80 317.20)" >SM</text>
<circle cx="328.20" cy="234.90" r="2.7" fill="#8a8a8a" stroke="#666" stroke-width="0.8"/>
<circle cx="338.80" cy="239.70" r="2.7" fill="#8a8a8a" stroke="#666" stroke-width="0.8"/>
<circle cx="359.60" cy="234.40" r="2.7" fill="#f8c080" stroke="#f0a050" stroke-width="0.8"/>
<circle cx="370.60" cy="241.30" r="2.7" fill="#f8c080" stroke="#f0a050" stroke-width="0.8"/>
<circle cx="391.50" cy="237.80" r="2.7" fill="#a8d4f8" stroke="#80b0e0" stroke-width="0.8"/>
<circle cx="402.10" cy="305.40" r="2.7" fill="#a8d4f8" stroke="#80b0e0" stroke-width="0.8"/>
<circle cx="423.00" cy="240.00" r="2.7" fill="#8a8a8a" stroke="#666" stroke-width="0.8"/>
<circle cx="433.80" cy="303.80" r="2.7" fill="#8a8a8a" stroke="#666" stroke-width="0.8"/>
<circle cx="454.50" cy="236.30" r="2.7" fill="#f8c080" stroke="#f0a050" stroke-width="0.8"/>
<circle cx="465.50" cy="300.80" r="2.7" fill="#f8c080" stroke="#f0a050" stroke-width="0.8"/>
<circle cx="486.30" cy="238.00" r="2.7" fill="#a8d4f8" stroke="#80b0e0" stroke-width="0.8"/>
<circle cx="497.00" cy="301.80" r="2.7" fill="#a8d4f8" stroke="#80b0e0" stroke-width="0.8"/>
<rect x="0.5" y="0.5" width="519" height="383" fill="none" stroke="#444" stroke-width="1.2"/>
</svg>
</body></html>
